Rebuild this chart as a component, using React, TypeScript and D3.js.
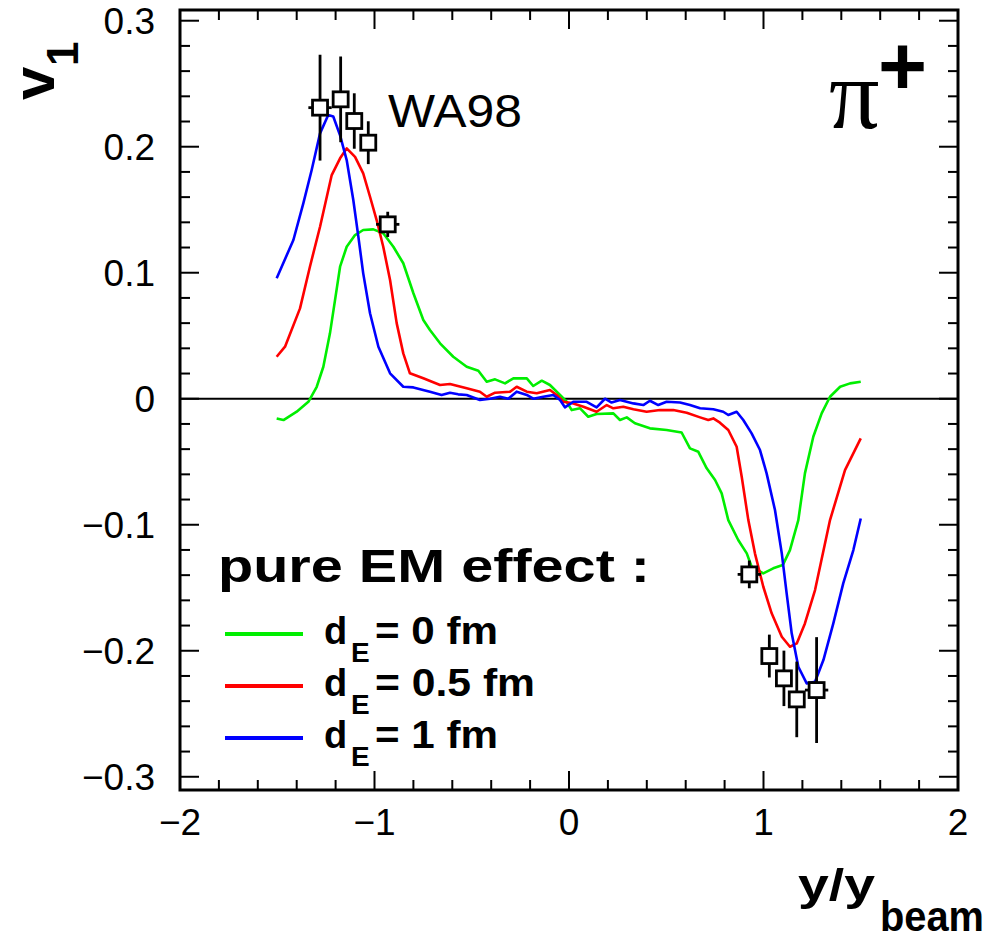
import React from "react";
import * as d3 from "d3";

// v1 vs normalized rapidity for pi+ : model curves for several emission distances
const curveLabels = ["0", "0.5", "1"];
const curveColors = ["#00ee00", "#ff0000", "#0000ff"];

const greenCurve: [number, number][] = [
  [-1.503, -0.0156], [-1.468, -0.0169], [-1.4, -0.0103], [-1.34, -0.0024], [-1.297, 0.0095],
  [-1.263, 0.0254], [-1.229, 0.0519], [-1.203, 0.0783], [-1.177, 0.1048], [-1.143, 0.1206],
  [-1.1, 0.1299], [-1.058, 0.1339], [-1.006, 0.1344], [-0.955, 0.1313], [-0.903, 0.1206],
  [-0.852, 0.1075], [-0.8, 0.0837], [-0.749, 0.0625], [-0.715, 0.0545], [-0.663, 0.044],
  [-0.595, 0.0333], [-0.526, 0.0254], [-0.466, 0.0222], [-0.423, 0.0135], [-0.38, 0.0154],
  [-0.329, 0.0122], [-0.286, 0.0162], [-0.217, 0.0162], [-0.184, 0.0101], [-0.14, 0.0143],
  [-0.098, 0.0109], [-0.046, 0.003], [-0.012, -0.0024], [0.014, -0.009], [0.057, -0.0076],
  [0.099, -0.0143], [0.142, -0.0121], [0.228, -0.0116], [0.262, -0.0169], [0.297, -0.0148],
  [0.339, -0.0195], [0.416, -0.0235], [0.502, -0.0248], [0.579, -0.0268], [0.622, -0.0394],
  [0.665, -0.0421], [0.708, -0.0552], [0.751, -0.0645], [0.785, -0.0751], [0.819, -0.0963],
  [0.87, -0.1121], [0.914, -0.1227], [0.939, -0.1333], [0.999, -0.1386], [1.05, -0.1346],
  [1.099, -0.132], [1.136, -0.1201], [1.179, -0.0963], [1.213, -0.0592], [1.256, -0.0302],
  [1.299, -0.0116], [1.342, 0.0016], [1.394, 0.0095], [1.445, 0.0122], [1.5, 0.0135],
];

const redCurve: [number, number][] = [
  [-1.503, 0.0333], [-1.46, 0.0413], [-1.383, 0.0717], [-1.332, 0.1048], [-1.28, 0.1365],
  [-1.22, 0.1775], [-1.177, 0.1908], [-1.143, 0.1987], [-1.1, 0.192], [-1.058, 0.1789],
  [-1.023, 0.1603], [-0.989, 0.1418], [-0.955, 0.1206], [-0.92, 0.0942], [-0.886, 0.06],
  [-0.852, 0.036], [-0.818, 0.0202], [-0.749, 0.0162], [-0.663, 0.0109], [-0.612, 0.0117],
  [-0.526, 0.0083], [-0.458, 0.0056], [-0.423, 0.0016], [-0.38, 0.0048], [-0.303, 0.0056],
  [-0.269, 0.0095], [-0.217, 0.0056], [-0.166, 0.0043], [-0.098, 0.0069], [-0.063, 0.003],
  [-0.029, -0.0024], [0.022, -0.0037], [0.074, -0.0063], [0.142, -0.0103], [0.194, -0.005],
  [0.228, -0.0076], [0.279, -0.0063], [0.331, -0.0084], [0.399, -0.0103], [0.468, -0.009],
  [0.536, -0.009], [0.605, -0.0111], [0.674, -0.0148], [0.716, -0.0169], [0.742, -0.0156],
  [0.776, -0.019], [0.819, -0.0248], [0.862, -0.0381], [0.888, -0.0619], [0.922, -0.0963],
  [0.956, -0.1227], [0.999, -0.1492], [1.042, -0.1703], [1.094, -0.1889], [1.136, -0.1968],
  [1.171, -0.1942], [1.213, -0.1783], [1.265, -0.1518], [1.342, -0.0963], [1.419, -0.0566],
  [1.5, -0.0314],
];

const blueCurve: [number, number][] = [
  [-1.503, 0.0956], [-1.417, 0.126], [-1.366, 0.155], [-1.323, 0.1815], [-1.28, 0.2106],
  [-1.238, 0.2252], [-1.212, 0.224], [-1.177, 0.209], [-1.143, 0.1894], [-1.109, 0.1577],
  [-1.083, 0.1286], [-1.058, 0.0995], [-1.023, 0.0678], [-0.98, 0.0413], [-0.92, 0.0202],
  [-0.852, 0.0095], [-0.8, 0.009], [-0.75, 0.007], [-0.715, 0.0056], [-0.655, 0.003],
  [-0.612, 0.0048], [-0.57, 0.0035], [-0.526, 0.003], [-0.458, -0.001], [-0.406, 0.0],
  [-0.355, 0.0016], [-0.312, 0.0], [-0.269, 0.0056], [-0.217, 0.003], [-0.184, 0.0],
  [-0.132, 0.0016], [-0.081, 0.003], [-0.046, -0.001], [-0.021, -0.0068], [0.022, -0.0024],
  [0.091, -0.0024], [0.142, -0.0068], [0.185, 0.0], [0.219, -0.003], [0.262, -0.001],
  [0.331, -0.0037], [0.382, -0.005], [0.416, -0.0016], [0.459, -0.005], [0.502, -0.0024],
  [0.571, -0.003], [0.622, -0.005], [0.674, -0.0076], [0.742, -0.0084], [0.793, -0.0103],
  [0.819, -0.0129], [0.862, -0.0103], [0.896, -0.0169], [0.939, -0.0275], [0.982, -0.0407],
  [1.016, -0.0592], [1.059, -0.0883], [1.094, -0.1227], [1.119, -0.1544], [1.145, -0.1862],
  [1.179, -0.2127], [1.222, -0.2259], [1.265, -0.2246], [1.308, -0.2074], [1.359, -0.1783],
  [1.41, -0.1465], [1.462, -0.1201], [1.5, -0.095],
];

const curves = [greenCurve, redCurve, blueCurve];

// WA98 measurements
const dataX = [-1.28, -1.174, -1.104, -1.032, -0.932, 0.927, 1.03, 1.105, 1.171, 1.273];
const dataY = [0.231, 0.2376, 0.2204, 0.2032, 0.1384, -0.1394, -0.2042, -0.2219, -0.2386, -0.2312];
const dataErrY = [0.042, 0.034, 0.022, 0.017, 0.01, 0.011, 0.017, 0.022, 0.03, 0.042];
const dataErrX = [0.06, 0, 0, 0, 0.06, 0.06, 0, 0, 0, 0.06];

const xTickValues = [-2, -1, 0, 1, 2];
const yTickValues = [0.3, 0.2, 0.1, 0, -0.1, -0.2, -0.3];

const fmt = (v: number) => (v < 0 ? "\u2212" + String(Math.abs(v)) : String(v));

export default function App() {
  const W = 990;
  const H = 944;
  const left = 180;
  const right = 958;
  const top = 10;
  const bottom = 790;

  const x = d3.scaleLinear().domain([-2, 2]).range([left, right]);
  const y = d3.scaleLinear().domain([-0.3105, 0.3085]).range([bottom, top]);

  const line = d3
    .line<[number, number]>()
    .x((d) => x(d[0]))
    .y((d) => y(d[1]));

  const sans = "'Liberation Sans', Arial, Helvetica, sans-serif";
  const axisColor = "#000";

  // minor tick positions
  const xMinor = d3.range(-2, 2.0001, 0.2).map((v) => Math.round(v * 10) / 10);
  const yMinor = d3.range(-0.3, 0.3001, 0.02).map((v) => Math.round(v * 100) / 100);
  const isMajorX = (v: number) => Math.abs(v - Math.round(v)) < 1e-6;
  const isMajorY = (v: number) => Math.abs(v * 10 - Math.round(v * 10)) < 1e-6;

  const majorLen = 19;
  const minorLen = 10;

  const legendRows = [634, 686, 738];

  return (
    <svg
      width={W}
      height={H}
      style={{ position: "absolute", left: 0, top: 0, background: "#fff" }}
    >
      <rect x={0} y={0} width={W} height={H} fill="#fff" />

      {/* zero line */}
      <line x1={left} x2={right} y1={y(0)} y2={y(0)} stroke="#000" strokeWidth={2} />

      {/* model curves */}
      {curves.map((c, i) => (
        <path
          key={"c" + i}
          d={line(c) || ""}
          fill="none"
          stroke={curveColors[i]}
          strokeWidth={2.6}
          strokeLinejoin="round"
        />
      ))}

      {/* WA98 points */}
      {dataX.map((dx, i) => {
        const cx = x(dx);
        const cy = y(dataY[i]);
        return (
          <g key={"p" + i}>
            <line
              x1={cx}
              x2={cx}
              y1={y(dataY[i] + dataErrY[i])}
              y2={y(dataY[i] - dataErrY[i])}
              stroke="#000"
              strokeWidth={2.8}
            />
            {dataErrX[i] > 0 && (
              <line
                x1={x(dx - dataErrX[i])}
                x2={x(dx + dataErrX[i])}
                y1={cy}
                y2={cy}
                stroke="#000"
                strokeWidth={2.8}
              />
            )}
            <rect
              x={cx - 7.5}
              y={cy - 7.5}
              width={15}
              height={15}
              fill="#fff"
              stroke="#000"
              strokeWidth={2.8}
            />
          </g>
        );
      })}

      {/* frame */}
      <rect
        x={left}
        y={top}
        width={right - left}
        height={bottom - top}
        fill="none"
        stroke={axisColor}
        strokeWidth={3}
      />

      {/* x ticks, bottom and top */}
      {xMinor.map((v, i) => {
        const len = isMajorX(v) ? majorLen : minorLen;
        return (
          <g key={"xt" + i}>
            <line x1={x(v)} x2={x(v)} y1={bottom} y2={bottom - len} stroke={axisColor} strokeWidth={2} />
            <line x1={x(v)} x2={x(v)} y1={top} y2={top + len} stroke={axisColor} strokeWidth={2} />
          </g>
        );
      })}

      {/* y ticks, left and right */}
      {yMinor.map((v, i) => {
        const len = isMajorY(v) ? majorLen : minorLen;
        return (
          <g key={"yt" + i}>
            <line x1={left} x2={left + len} y1={y(v)} y2={y(v)} stroke={axisColor} strokeWidth={2} />
            <line x1={right} x2={right - len} y1={y(v)} y2={y(v)} stroke={axisColor} strokeWidth={2} />
          </g>
        );
      })}

      {/* tick labels */}
      {yTickValues.map((v) => (
        <text
          key={"yl" + v}
          x={155}
          y={y(v) + 13}
          textAnchor="end"
          fontFamily={sans}
          fontSize={37}
          fill="#000"
        >
          {fmt(v)}
        </text>
      ))}
      {xTickValues.map((v) => (
        <text
          key={"xl" + v}
          x={x(v)}
          y={835}
          textAnchor="middle"
          fontFamily={sans}
          fontSize={37}
          fill="#000"
        >
          {fmt(v)}
        </text>
      ))}

      {/* axis titles */}
      <g transform="translate(54,100) rotate(-90)">
        <text x={0} y={0} fontFamily={sans} fontWeight="bold" fontSize={60} fill="#000">
          v
        </text>
        <text x={34} y={24} fontFamily={sans} fontWeight="bold" fontSize={44} fill="#000">
          1
        </text>
      </g>
      <text x={798} y={900} fontFamily={sans} fontWeight="bold" fontSize={44} fill="#000" textLength={77} lengthAdjust="spacingAndGlyphs">
        y/y
      </text>
      <text x={880} y={931} fontFamily={sans} fontWeight="bold" fontSize={42} fill="#000" textLength={104} lengthAdjust="spacingAndGlyphs">
        beam
      </text>

      {/* annotations */}
      <text x={388} y={127} fontFamily={sans} fontSize={46} fill="#000" textLength={134} lengthAdjust="spacingAndGlyphs">
        WA98
      </text>
      <text x={829} y={128} fontFamily="'Liberation Serif', 'DejaVu Serif', serif" fontSize={100} fill="#000">
        π
      </text>
      <text x={878} y={95} fontFamily={sans} fontWeight="bold" fontSize={84} fill="#000">
        +
      </text>

      {/* legend */}
      <text x={218} y={582} fontFamily={sans} fontWeight="bold" fontSize={47} fill="#000" textLength={432} lengthAdjust="spacingAndGlyphs">
        pure EM effect :
      </text>
      {curveLabels.map((lab, i) => {
        const ly = legendRows[i];
        const rest = "= " + lab + " fm";
        const restLen = lab === "0.5" ? 160 : 123;
        return (
          <g key={"lg" + i}>
            <line x1={225} x2={303} y1={ly} y2={ly} stroke={curveColors[i]} strokeWidth={4} />
            <text x={324} y={ly + 10} fontFamily={sans} fontWeight="bold" fontSize={38} fill="#000">
              d
            </text>
            <text x={351} y={ly + 28} fontFamily={sans} fontWeight="bold" fontSize={28} fill="#000">
              E
            </text>
            <text x={375} y={ly + 10} fontFamily={sans} fontWeight="bold" fontSize={38} fill="#000" textLength={restLen} lengthAdjust="spacingAndGlyphs">
              {rest}
            </text>
          </g>
        );
      })}
    </svg>
  );
}
